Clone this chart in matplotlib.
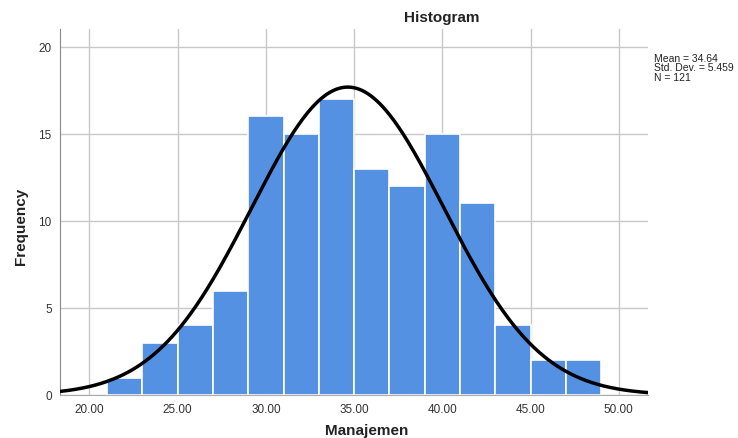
import numpy as np
import matplotlib as mpl
mpl.use('Agg')
import matplotlib.pyplot as plt

plt.rcParams['font.family'] = ['Liberation Sans', 'DejaVu Sans']

# bin edges and counts
bin_left = [21, 23, 25, 27, 29, 31, 33, 35, 37, 39, 41, 43, 45, 47]
counts = [1, 3, 4, 6, 16, 15, 17, 13, 12, 15, 11, 4, 2, 2]
bin_width = 2
mean = 34.64
std = 5.459
n = 121
x_ticks = [20, 25, 30, 35, 40, 45, 50]
y_ticks = [0, 5, 10, 15, 20]

fig = plt.figure(figsize=(7.38, 4.39), dpi=100)
ax = fig.add_axes([0.0813, 0.098, 0.797, 0.834])

ax.bar(bin_left, counts, width=bin_width, align='edge',
       color='#5591e3', edgecolor='white', linewidth=1.2, zorder=2)

xs = np.linspace(18.33, 51.67, 400)
ys = n * bin_width / (std * np.sqrt(2 * np.pi)) * np.exp(-0.5 * ((xs - mean) / std) ** 2)
ax.plot(xs, ys, color='black', linewidth=2.5, zorder=3)

ax.set_xlim(18.33, 51.67)
ax.set_ylim(0, 21.03)
ax.set_xticks(x_ticks)
ax.set_xticklabels(['%.2f' % t for t in x_ticks])
ax.set_yticks(y_ticks)
ax.grid(True, color='#c8c8c8', linewidth=1, zorder=0)
ax.set_axisbelow(True)
ax.tick_params(length=0, labelsize=8.5, colors='#333333', pad=6)

for s in ['top', 'right']:
  ax.spines[s].set_visible(False)
ax.spines['left'].set_color('#888888')
ax.spines['bottom'].set_color('#aaaaaa')

fig.text(0.029, 0.485, 'Frequency', rotation=90, ha='center', va='center',
         fontsize=11, fontweight='bold', color='#222222')
fig.text(0.497, 0.018, 'Manajemen', ha='center', va='center',
         fontsize=11, fontweight='bold', color='#222222')
fig.text(0.598, 0.958, 'Histogram', ha='center', va='center',
         fontsize=11, fontweight='bold', color='#222222')
fig.text(0.886, 0.878, 'Mean = %.2f\nStd. Dev. = %.3f\nN = %d' % (mean, std, n),
         ha='left', va='top', fontsize=7.5, linespacing=0.95, color='#222222')

plt.savefig('out.png', dpi=100)
